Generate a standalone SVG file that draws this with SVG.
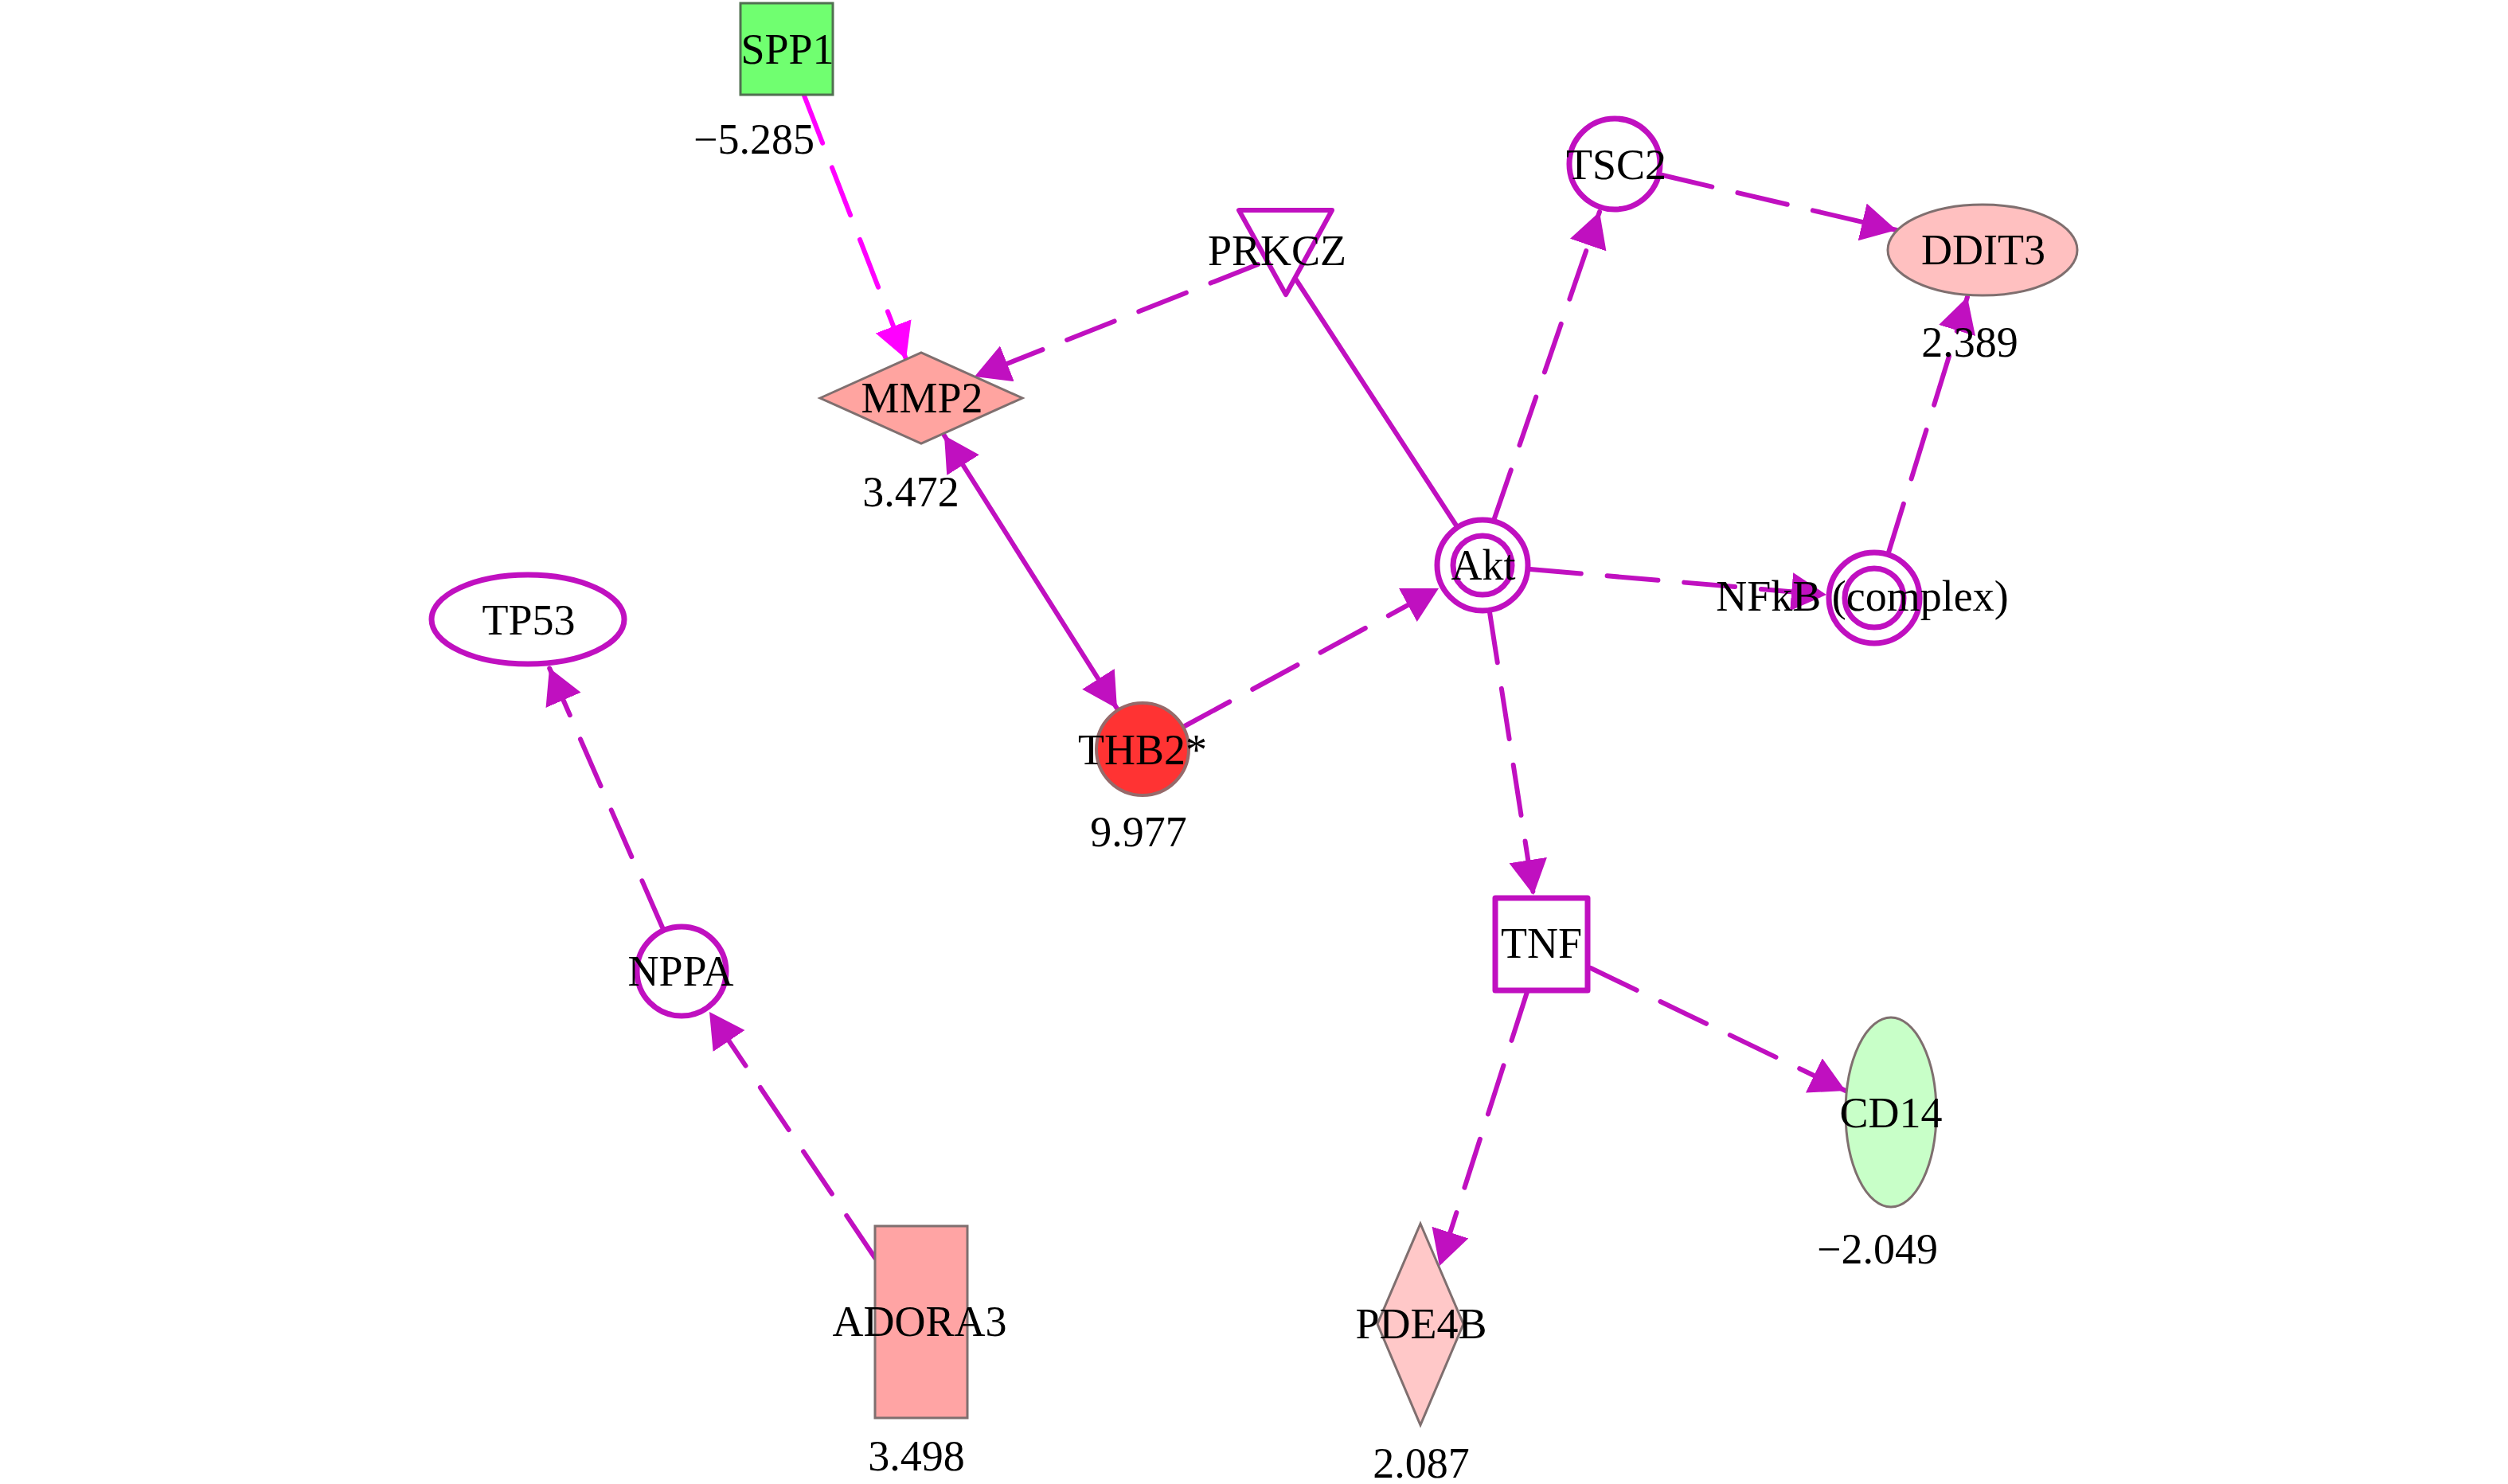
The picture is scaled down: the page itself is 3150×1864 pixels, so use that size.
<svg xmlns="http://www.w3.org/2000/svg" width="3150" height="1864" viewBox="0 0 3150 1864">
<style>
text{font-family:"Liberation Serif","Times New Roman",serif;font-size:54px;fill:#000;text-anchor:middle}
.e{fill:none;stroke:#C010C0;stroke-width:6;stroke-linecap:round}
.d{stroke-dasharray:64 33}
.m{stroke:#FF00FF}
.pn{fill:#fff;stroke:#C010C0;stroke-width:7}
.gn{stroke:#7F6F6F;stroke-width:3}
</style>
<defs>
<marker id="ap" markerUnits="userSpaceOnUse" markerWidth="46" markerHeight="50" viewBox="0 0 46 50" refX="44" refY="24" orient="auto-start-reverse"><path d="M0,0 L44,24 L0,48 z" fill="#C010C0"/></marker>
<marker id="am" markerUnits="userSpaceOnUse" markerWidth="46" markerHeight="50" viewBox="0 0 46 50" refX="44" refY="24" orient="auto"><path d="M0,0 L44,24 L0,48 z" fill="#FF00FF"/></marker>
</defs>
<rect width="3150" height="1864" fill="#fff"/>
<g id="connectors">
<line class="e d m" x1="1010" y1="120" x2="1138" y2="451" marker-end="url(#am)"/>
<line class="e d" x1="1580" y1="332" x2="1224" y2="473" marker-end="url(#ap)"/>
<line class="e" x1="1186" y1="547" x2="1403" y2="890" marker-start="url(#ap)" marker-end="url(#ap)"/>
<line class="e" x1="1829" y1="660" x2="1627" y2="350"/>
<line class="e d" x1="1488" y1="912" x2="1807" y2="739" marker-end="url(#ap)"/>
<line class="e d" x1="1877" y1="651" x2="2009" y2="266" marker-end="url(#ap)"/>
<line class="e d" x1="2088" y1="220" x2="2382" y2="289" marker-end="url(#ap)"/>
<line class="e d" x1="1922" y1="715" x2="2294" y2="747" marker-end="url(#ap)"/>
<line class="e d" x1="2372" y1="694" x2="2471" y2="373" marker-end="url(#ap)"/>
<line class="e d" x1="1871" y1="769" x2="1926" y2="1124" marker-end="url(#ap)"/>
<line class="e d" x1="1918" y1="1246" x2="1808" y2="1590" marker-end="url(#ap)"/>
<line class="e d" x1="1998" y1="1216" x2="2318" y2="1370" marker-end="url(#ap)"/>
<line class="e d" x1="832" y1="1165" x2="690" y2="839" marker-end="url(#ap)"/>
<line class="e d" x1="1099" y1="1580" x2="891" y2="1271" marker-end="url(#ap)"/>
</g>
<g id="SPP1"><rect x="930" y="4" width="116" height="115" fill="#70FF70" stroke="#507050" stroke-width="3"/><text x="989" y="80">SPP1</text><text x="947" y="193">−5.285</text></g>
<g id="MMP2"><polygon class="gn" points="1030,500 1157,443 1284,500 1157,557" fill="#FFA4A0"/><text x="1158" y="518">MMP2</text><text x="1144" y="636">3.472</text></g>
<g id="PRKCZ"><polygon points="1556,264 1673,264 1615,370" fill="#fff" stroke="#C010C0" stroke-width="6" stroke-linejoin="round"/><text x="1604" y="333">PRKCZ</text></g>
<g id="TSC2"><circle class="pn" cx="2028" cy="206" r="57"/><text x="2030" y="225">TSC2</text></g>
<g id="DDIT3"><ellipse class="gn" cx="2490" cy="314" rx="119" ry="57" fill="#FFC0C0"/><text x="2491" y="332">DDIT3</text><text x="2474" y="448">2.389</text></g>
<g id="Akt"><circle class="pn" cx="1862" cy="710" r="57"/><circle cx="1862" cy="710" r="37" fill="none" stroke="#C010C0" stroke-width="7"/><text x="1863" y="728">Akt</text></g>
<g id="NFkB"><circle class="pn" cx="2354" cy="751" r="57"/><circle cx="2354" cy="751" r="37" fill="none" stroke="#C010C0" stroke-width="7"/><text x="2339" y="767">NFkB (complex)</text></g>
<g id="TP53"><ellipse class="pn" cx="663" cy="778" rx="121" ry="56"/><text x="664" y="797">TP53</text></g>
<g id="THB2"><circle cx="1435" cy="941" r="58" fill="#FF3333" stroke="#966A6A" stroke-width="4"/><text x="1435" y="960">THB2*</text><text x="1430" y="1063">9.977</text></g>
<g id="NPPA"><circle class="pn" cx="856" cy="1220" r="56"/><text x="855" y="1238">NPPA</text></g>
<g id="ADORA3"><rect class="gn" x="1099" y="1540" width="116" height="241" fill="#FFA4A4"/><text x="1155" y="1678">ADORA3</text><text x="1151" y="1847">3.498</text></g>
<g id="TNF"><rect class="pn" x="1878" y="1128" width="116" height="116" stroke-linejoin="round"/><text x="1936" y="1203">TNF</text></g>
<g id="PDE4B"><polygon class="gn" points="1784,1537 1838,1663 1784,1790 1730,1663" fill="#FFC8C8"/><text x="1785" y="1681">PDE4B</text><text x="1785" y="1856">2.087</text></g>
<g id="CD14"><ellipse class="gn" cx="2375" cy="1397" rx="57" ry="119" fill="#C8FFC8"/><text x="2375" y="1416">CD14</text><text x="2358" y="1587">−2.049</text></g>
</svg>
